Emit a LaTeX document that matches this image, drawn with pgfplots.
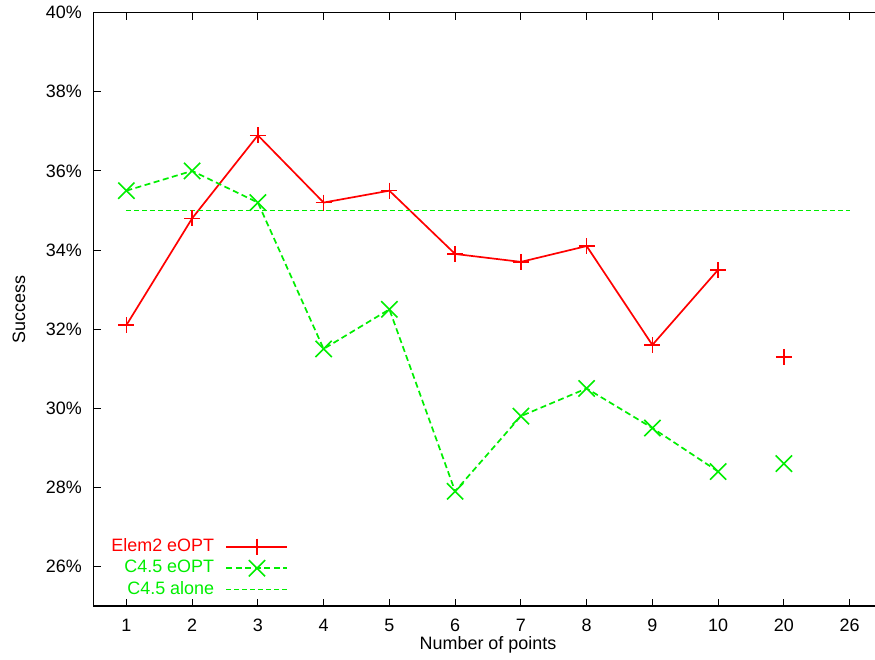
\documentclass[border=0pt]{standalone}
\usepackage{pgfplots}
\pgfplotsset{compat=1.18}
\usepackage{fontspec}
\setmainfont{Liberation Sans}

\definecolor{lred}{RGB}{255,0,0}
\definecolor{lgreen}{RGB}{0,238,0}

\begin{document}
\begin{tikzpicture}
\useasboundingbox (0,0) rectangle (875bp,660bp);
\begin{axis}[
  at={(93.5bp,54bp)}, anchor=south west,
  scale only axis,
  width=789bp, height=593.3bp,
  xmin=0.5, xmax=12.5,
  ymin=25, ymax=40,
  font=\fontsize{18}{21}\selectfont,
  axis line style={black, line width=1.2bp},
  every tick/.style={black, line width=1bp},
  major tick length=7bp,
  xtick pos=both, ytick pos=both,
  tick align=inside,
  xtick={1,2,3,4,5,6,7,8,9,10,11,12},
  xticklabels={1,2,3,4,5,6,7,8,9,10,20,26},
  ytick={26,28,30,32,34,36,38,40},
  yticklabels={26\%,28\%,30\%,32\%,34\%,36\%,38\%,40\%},
  xticklabel style={inner sep=0pt, anchor=north, yshift=-13bp},
  yticklabel style={inner sep=0pt, anchor=east, xshift=-11.5bp},
  xlabel={Number of points},
  ylabel={Success},
  xlabel style={at={(axis description cs:0.5,-0.0725)}, anchor=base},
  ylabel style={at={(axis description cs:-0.0868,0.5)}, anchor=base, rotate=0},
  unbounded coords=jump,
  legend plot pos=right,
  legend cell align=right,
  legend style={draw=none, fill=none, at={(axis description cs:0.0225,0.1146)},
    anchor=north west, inner sep=0pt, row sep=4.5bp,
    nodes={inner sep=0pt, text height=13bp, text depth=4bp, font=\fontsize{18}{21}\selectfont}},
  legend image code/.code={%
    \path (0bp,0bp);
    \draw[mark repeat=2,mark phase=2] plot coordinates {(11.5bp,0bp)(42bp,0bp)(72.5bp,0bp)};},
]

% Elem2 eOPT: points 1..10 joined, the 20-point run on its own
\addplot[color=lred, line width=1.7bp, mark=+, mark size=8bp,
  mark options={solid, line width=1.6bp}]
  coordinates {
  (1,32.1) (2,34.8) (3,36.9) (4,35.2) (5,35.5) (6,33.9) (7,33.7)
  (8,34.1) (9,31.6) (10,33.5) (10.5,nan) (11,31.3)
  };
\addlegendentry{\textcolor{lred}{Elem2 eOPT}}

% C4.5 eOPT
\addplot[color=lgreen, line width=1.7bp, dash pattern=on 6bp off 3.5bp,
  mark=x, mark size=11.5bp, mark options={solid, line width=1.6bp}]
  coordinates {
  (1,35.5) (2,36.0) (3,35.2) (4,31.5) (5,32.5) (6,27.9) (7,29.8)
  (8,30.5) (9,29.5) (10,28.4) (10.5,nan) (11,28.6)
  };
\addlegendentry{\textcolor{lgreen}{C4.5 eOPT}}

% C4.5 alone baseline
\addplot[color=lgreen, line width=0.8bp, dash pattern=on 5bp off 3bp]
  coordinates {(1,35) (12,35)};
\addlegendentry{\textcolor{lgreen}{C4.5 alone}}

\end{axis}
\end{tikzpicture}
\end{document}
